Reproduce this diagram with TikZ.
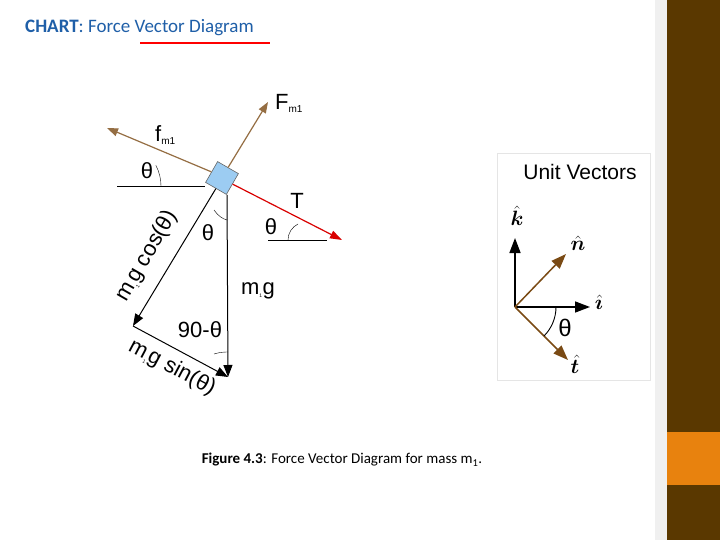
\documentclass[tikz,border=0pt]{standalone}
\usepackage{bm}
\usepackage{fontspec}
\setmainfont{Liberation Sans}
\newfontfamily\carl{Carlito}
\usetikzlibrary{arrows.meta}
\definecolor{brn}{HTML}{7A4A14}
\definecolor{bar}{HTML}{5A3800}
\definecolor{org}{HTML}{E8820E}
\definecolor{ttl}{HTML}{1F5FA8}
\definecolor{boxc}{HTML}{9CCCF2}
\tikzset{vec/.style={-{Triangle[length=12pt,width=9pt]},line width=1pt},
 lbl/.style={font=\fontsize{22}{22}\selectfont,inner sep=0pt},
 ang/.style={line width=0.4pt}}
\begin{document}
\begin{tikzpicture}[x=1pt,y=-1pt]
\useasboundingbox (0,0) rectangle (720,540);
\fill[white] (0,0) rectangle (720,540);
\fill[gray!12] (655,0) rectangle (667,540);
\fill[bar] (667,0) rectangle (720,540);
\fill[org] (667,432) rectangle (720,485);
% title
\node[anchor=west,inner sep=0pt,text=ttl,font=\carl\fontsize{19}{19}\selectfont] (title) at (25,28) {\textbf{CHART}: Force Vector Diagram};
\draw[red,line width=2.5pt] (140,43) -- (270,43);
% main diagram
\coordinate (c) at (222,178);
\node[draw=black!60,fill=boxc,minimum size=24pt,rotate=-30,inner sep=0pt,line width=0.6pt] (box) at (c) {};
\coordinate (ftip) at (107,128);
\draw[brn!80,-{Triangle[length=11pt,width=8pt]},line width=1.2pt] (box.west) -- (ftip);
\coordinate (Ftip) at (268,102);
\draw[brn!80,-{Triangle[length=11pt,width=8pt]},line width=1.2pt] (box.north) -- (Ftip);
\coordinate (Ttip) at (342,240);
\draw[red!85!black,-{Triangle[length=12pt,width=8pt]},line width=1.2pt] (box.east) -- (Ttip);
\coordinate (h1) at (117,186);
\draw[line width=0.8pt] (h1) -- (205,186);
\draw[ang] ([xshift=44pt]h1) arc[start angle=0,end angle=28,radius=44pt];
\node[lbl] (th1) at (147,171) {θ};
\coordinate (p) at (227,195);
\coordinate (q) at (133,326);
\coordinate (r) at (228,377);
\draw[vec] (p) -- (r);
\draw[vec] (box.south) -- (q);
\draw[vec] (q) -- (r);
\draw[ang] (214,210) .. controls (218,216) and (223,219) .. (227,220);
\draw[ang] (214,354) .. controls (220,352) and (226,352) .. (228,352);
\node[lbl] (th2) at (208,233) {θ};
\node[lbl] (mg) at (258,291) {m\textsubscript{\tiny 1}g};
\node[lbl,rotate=60] (mgc) at (147,256) {m\textsubscript{\tiny 1}g cos(θ)};
\node[lbl,rotate=-28] (mgs) at (172,368) {m\textsubscript{\tiny 1}g sin(θ)};
\node[lbl] (nt) at (200,330) {90-θ};
\node[lbl] (T) at (297,201) {T};
\draw[line width=0.8pt] (268,240) -- (327,240);
\draw[ang] (288,240) .. controls (288,233) and (292,227) .. (298,224);
\node[lbl] (th3) at (271,227) {θ};
\node[lbl,anchor=west] (F) at (275,103) {F\textsubscript{\normalsize m1}};
\node[lbl,anchor=west] (f) at (155,135) {f\textsubscript{\normalsize m1}};
% unit vectors
\fill[white,draw=gray!20] (497,153) rectangle (650,380);
\node[font=\fontsize{21}{21}\selectfont,inner sep=0pt] (uv) at (580,172) {Unit Vectors};
\coordinate (o) at (515,307);
\coordinate (kt) at (515,238);
\coordinate (it) at (590,307);
\coordinate (nt2) at (566,254);
\coordinate (tt) at (568,360);
\draw[-{Triangle[length=15pt,width=11pt]},line width=1.5pt] (o) -- (kt);
\draw[-{Triangle[length=15pt,width=11pt]},line width=1.5pt] (o) -- (it);
\draw[brn,-{Triangle[length=15pt,width=11pt]},line width=1.5pt] (o) -- (nt2);
\draw[brn,-{Triangle[length=15pt,width=11pt]},line width=1.5pt] (o) -- (tt);
\draw[line width=0.9pt] (556,307) arc[start angle=0,end angle=-45,radius=41pt];
\node[lbl] (k) at (517,216) {$\hat{\bm{k}}$};
\node[lbl] (n) at (578,243) {$\hat{\bm{n}}$};
\node[lbl] (i) at (599,302) {$\hat{\bm{\imath}}$};
\node[lbl] (t) at (575,364) {$\hat{\bm{t}}$};
\node[lbl,font=\fontsize{24}{24}\selectfont] (th4) at (565,328) {θ};
% caption
\node[font=\carl\fontsize{15}{15}\selectfont,inner sep=0pt] (cap) at (342,460) {\textbf{Figure 4.3}: Force Vector Diagram for mass m\textsubscript{1}.};
\end{tikzpicture}
\end{document}
